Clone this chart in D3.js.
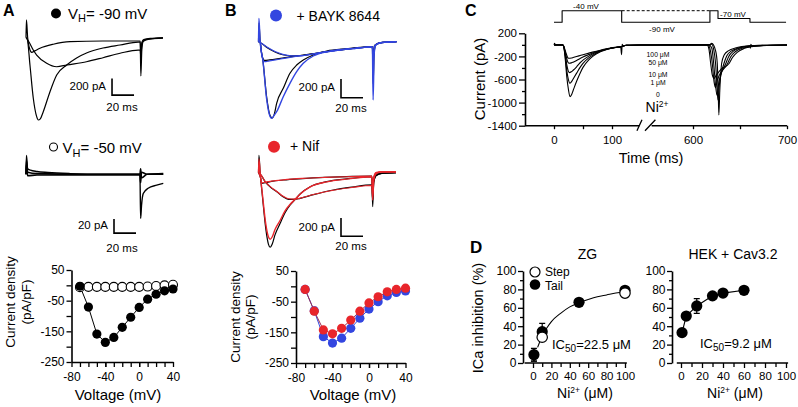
<!DOCTYPE html>
<html><head><meta charset="utf-8">
<script src="https://cdn.jsdelivr.net/npm/d3@7"></script>
<style>body{margin:0;background:#fff}svg{display:block}</style>
</head><body><script>
// ---------------- DATA ----------------
const ivVoltage = [-70,-60,-50,-40,-30,-20,-10,0,10,20,30,40];
const ivHold90 = [-3,-71,-159,-186,-170,-137,-104,-72,-45,-29,-18,-12];
const ivHold50 = [-6,-5,-5,-5,-5,-5,-5,-5,-4,-2,0,2];
const ivBayk = [-10,-80,-164,-185,-169,-137,-104,-74,-50,-31,-20,-15];
const ivBaykErr = [3,12,8,8,8,6,5,5,4,4,4,4];
const ivNif = [-10,-81,-142,-155,-137,-110,-81,-54,-34,-18,-10,-6];
const ivNifErr = [3,6,5,5,5,4,4,3,3,3,3,3];
const ivXTicks = [-80,-40,0,40];
const ivYTicks = [50,-50,-150,-250];

// Panel A traces (ms, pA)
const traceA90big = [[0,0],[1.2,-20],[3.6,-329],[6.6,-725],[9.7,-948],[11.2,-988],[13,-975],[15.7,-889],[21.8,-649],[27.9,-449],[37,-329],[46,-245],[55,-186],[70,-126],[85.5,-90],[102,-55],[103.8,-55],[104.4,-460],[105.3,-150],[106.5,-50],[110,-25],[117,-12],[124.5,-5]];
const traceA90mid = [[0,0],[3,-60],[6.6,-150],[9.7,-210],[18.8,-309],[27.9,-350],[37,-329],[55,-290],[70,-242],[85.5,-189],[102,-150],[103.8,-150],[104.4,-230],[105.3,-80],[107,-35],[112,-18],[124.5,-8]];
const traceA90fast = [[0,0],[0.4,210],[1.5,0],[3,-120],[5.2,-177],[8,-160],[12.7,-129],[24.8,-81],[40,-50],[70,-42],[102,-42],[103.8,-42],[104.4,-200],[105.3,-60],[107,-25],[113,-10],[124.5,-3]];
const traceA50a = [[0,0],[0.4,27],[1.5,8],[4,6],[10,4],[20,2.6],[40,1],[70,0],[103.6,0],[104.2,-63],[105,-45],[106.6,-27.5],[111,-20],[118.8,-15.5],[124.8,-13]];
const traceA50b = [[0,0],[0.4,20],[1.5,3],[10,1],[50,0],[103.6,0],[104.2,8],[105,-5],[110,0],[124.8,1]];
const traceA50c = [[0,0],[0.4,14],[1.5,-2],[10,-1],[50,-1],[103.6,-1],[104.2,-12],[105,3],[110,0],[124.8,0]];

// Panel B traces (ms, pA)
const traceBblackBig = [[0,0],[0.4,200],[1.5,0],[4,-200],[7.5,-600],[10.5,-790],[12.5,-816],[14.5,-770],[16.5,-659],[22.5,-499],[28.6,-338],[34.7,-249],[40.7,-196],[49.8,-142],[62,-100],[80,-75],[103.5,-55],[104.2,-450],[105.2,-100],[107,-30],[112,-10],[125.5,0]];
const traceBblueBig = [[0,0],[0.4,250],[1.5,0],[4,-200],[7.5,-623],[10.5,-800],[12,-819],[14,-790],[16.5,-749],[22.5,-588],[28.6,-445],[34.7,-320],[40.7,-231],[49.8,-153],[62,-107],[80,-78],[103.5,-55],[104.2,-623],[105.2,-120],[107,-30],[112,-8],[125.5,0]];
const traceBblueFast = [[0,0],[1.5,0],[3,-150],[5.5,-214],[10,-205],[20,-185],[30,-165],[40,-148],[55,-120],[70,-95],[85,-75],[103.5,-55],[104.2,-200],[105.5,-50],[110,-15],[125.5,0]];
const traceBblackFast = [[0,0],[1.5,0],[3,-140],[5.5,-200],[10,-195],[20,-178],[30,-160],[40,-145],[55,-118],[70,-93],[85,-73],[103.5,-54],[104.2,-180],[105.5,-45],[110,-12],[125.5,0]];
const traceBblueSlow = [[0,0],[3,-20],[8,-60],[15,-105],[22,-135],[30,-150],[40,-148],[55,-120],[70,-95],[85,-75],[103.5,-55],[104.2,-180],[105.5,-45],[110,-12],[125.5,0]];
const traceBblackSlow = [[0,0],[3,-20],[8,-65],[15,-110],[22,-140],[30,-152],[40,-146],[55,-119],[70,-94],[85,-74],[103.5,-55],[104.2,-170],[105.5,-40],[110,-12],[125.5,0]];
const traceNblackBig = [[0,0],[0.4,190],[1.5,0],[3.5,-250],[6.5,-600],[9,-780],[10.6,-815],[12.5,-780],[15,-680],[19.7,-553],[24,-440],[28.8,-353],[33.4,-291],[38,-230],[47,-153],[62,-98],[80,-68],[103,-44],[103.8,-371],[104.8,-100],[107,-30],[112,-8],[125,0]];
const traceNredBig = [[0,0],[0.4,150],[1.5,0],[3.5,-230],[6.5,-550],[9,-700],[10.6,-728],[12.5,-700],[15,-620],[19.7,-520],[24,-420],[28.8,-345],[33.4,-290],[38,-232],[47,-155],[62,-100],[80,-70],[103,-46],[103.8,-300],[104.8,-80],[107,-10],[112,10],[125,10]];
const traceNblackMid = [[0,0],[2,-20],[6,-98],[11,-160],[16.7,-208],[22,-260],[27.3,-291],[32,-292],[38,-280],[50,-240],[68,-189],[85,-158],[103,-134],[103.8,-300],[104.8,-100],[107,-30],[112,-8],[125,0]];
const traceNredMid = [[0,0],[2,-20],[6,-95],[11,-155],[16.7,-205],[22,-255],[27.3,-285],[32,-288],[38,-278],[50,-238],[68,-192],[85,-162],[103,-140],[103.8,-250],[104.8,-60],[107,0],[112,10],[125,8]];
const traceNblackFast = [[0,0],[1.5,-40],[3,-116],[6,-110],[12,-95],[22.7,-80],[40,-65],[60,-52],[80,-43],[103,-36],[103.8,-200],[104.8,-60],[107,-15],[112,-3],[125,0]];
const traceNredFast = [[0,0],[1.5,-40],[3,-110],[6,-105],[12,-92],[22.7,-78],[40,-63],[60,-52],[80,-44],[103,-38],[103.8,-180],[104.8,-40],[107,5],[112,10],[125,8]];

// Panel C: current traces for Ni2+ concentrations (ms, pA)
const niLabels = ["100 \u03bcM","50 \u03bcM","10 \u03bcM","1 \u03bcM","0"];
const cTrace0 = [[0,0],[1,25],[2.5,0],[14,0],[16,-10],[19,-204],[22,-550],[25,-781],[27.6,-897],[30,-870],[33,-790],[39,-630],[45,-490],[50,-390],[60,-260],[68,-190],[80,-120],[91,-80],[105,-48],[115,-35],[116.5,-170],[117.5,10],[119,-15],[125,-8],[150,-3],[560,-2],[617,0],[620,25],[624,-100],[625.8,-319],[626.8,-800],[627.5,-1213],[628.5,-800],[630.5,-319],[633,-180],[638,-100],[645,-55],[652,-30],[660.5,-15],[661,-60],[661.5,10],[662.5,-12],[675,-6],[700,-2]];
const cTrace1 = [[0,0],[14,0],[16,-10],[19,-170],[22,-440],[25,-610],[27,-665],[30,-640],[33,-590],[39,-490],[45,-390],[50,-320],[60,-225],[68,-170],[80,-112],[91,-77],[105,-47],[115,-35],[125,-8],[150,-3],[560,-2],[617,0],[620,10],[622,-80],[624,-319],[625.5,-700],[626.5,-955],[628,-700],[633,-319],[636,-190],[641,-105],[648,-55],[655,-30],[665,-14],[700,-2]];
const cTrace10 = [[0,0],[14,0],[16,-8],[19,-140],[22,-340],[24.5,-450],[26.5,-481],[30,-465],[33,-440],[39,-380],[45,-310],[50,-265],[60,-195],[68,-150],[80,-104],[91,-74],[105,-46],[115,-34],[125,-8],[150,-3],[560,-2],[617,0],[620,-60],[622,-319],[624,-700],[625.5,-870],[627.5,-650],[635,-319],[638,-200],[643,-110],[650,-55],[658,-30],[668,-14],[700,-2]];
const cTrace50 = [[0,0],[14,0],[16,-8],[19,-110],[22,-240],[24,-300],[26,-319],[30,-312],[33,-300],[39,-270],[45,-235],[50,-210],[60,-168],[68,-136],[80,-98],[91,-71],[105,-45],[115,-33],[125,-8],[150,-3],[560,-2],[616,0],[618.5,-100],[620.5,-319],[622.5,-650],[624,-740],[626,-600],[637,-319],[640,-210],[645,-120],[652,-60],[660,-32],[670,-14],[700,-2]];
const cTrace100 = [[0,0],[14,0],[16,-6],[19,-90],[22,-180],[24,-225],[25,-232],[30,-228],[33,-220],[39,-203],[45,-185],[50,-170],[60,-143],[68,-122],[80,-92],[91,-68],[105,-44],[115,-33],[125,-8],[150,-3],[560,-2],[615,0],[617,-80],[618.8,-319],[620.5,-520],[622.5,-580],[625,-520],[630,-420],[638.6,-319],[642,-220],[647,-130],[654,-65],[662,-34],[672,-14],[700,-2]];
const cProtocol = [[0,-90],[14,-90],[14,-40],[116.7,-40],[116.7,-90],[618,-90],[618,-40],[626.6,-40],[626.6,-70],[660.6,-70],[660.6,-90],[699,-90]];
const cProtocolDash = [[116.7,-40],[618,-40]];
const cYTicks = [200,-200,-600,-1000,-1400];
const cYMinor = [0,-400,-800,-1200];
const cXTicks = [0,100,600,700];
const cXMinor = [50,650];

// Panel D
const zgConc = [1,10,50,100];
const zgStep = [5,28,65,76];
const zgStepErr = [3,3,2,2];
const zgTail = [9,34,66,79];
const zgTailErr = [7,9,3,2];
const zgFitConc = [5,10,15,20,30,40,50,60,70,80,90,100];
const zgFitVal = [17,29,38,45,54,61,65.5,69,72,74,76,77.5];
const hekConc = [1,5,15,30,40,60];
const hekVal = [33,51,62,73,76,79];
const hekErr = [3,3,8,3,2,3];
const dTicks = [0,20,40,60,80,100];
const dMinor = [10,30,50,70,90];

// ---------------- DRAW ----------------
const FONT = '"Liberation Sans", Arial, Helvetica, sans-serif';
const BLUE = "#3346e0", RED = "#e8252b";
const svg = d3.select("body").append("svg").attr("width",798).attr("height",407)
  .style("font-family",FONT).style("background","#fff");

function trace(data, xs, ys, color, w, curve){
  svg.append("path").datum(data).attr("fill","none").attr("stroke",color)
    .attr("stroke-width",w||1.2).attr("stroke-linejoin","round")
    .attr("d", d3.line().x(d=>xs(d[0])).y(d=>ys(d[1])).curve(curve||d3.curveMonotoneX));
}
function text(x,y,s,fs,anchor,weight){
  return svg.append("text").attr("x",x).attr("y",y).attr("font-size",fs)
    .attr("text-anchor",anchor||"start").attr("font-weight",weight||"normal").attr("fill","#000").text(s);
}
function vtext(x,y,s,fs){
  return svg.append("text").attr("transform",`translate(${x},${y}) rotate(-90)`)
    .attr("font-size",fs).attr("text-anchor","middle").attr("fill","#000").text(s);
}
function styleAxis(g,fs){
  g.selectAll("text").attr("font-size",fs).attr("font-family",FONT).attr("fill","#000");
  g.selectAll("line").attr("stroke","#000").attr("stroke-width",1.3);
  g.selectAll(".domain").attr("stroke","#000").attr("stroke-width",1.6);
}
function yAxis(scale,x,majors,minors,fs,majLen,minLen,pad){
  const g1 = svg.append("g").attr("transform",`translate(${x},0)`)
    .call(d3.axisLeft(scale).tickValues(minors).tickSize(minLen).tickFormat("").tickSizeOuter(0));
  const g2 = svg.append("g").attr("transform",`translate(${x},0)`)
    .call(d3.axisLeft(scale).tickValues(majors).tickSize(majLen).tickPadding(pad).tickFormat(d=>String(d)).tickSizeOuter(0));
  g2.select(".domain").remove();
  styleAxis(g1,fs); styleAxis(g2,fs);
}
function xAxis(scale,y,majors,minors,fs,majLen,minLen,pad){
  const g1 = svg.append("g").attr("transform",`translate(0,${y})`)
    .call(d3.axisBottom(scale).tickValues(minors).tickSize(minLen).tickFormat("").tickSizeOuter(0));
  const g2 = svg.append("g").attr("transform",`translate(0,${y})`)
    .call(d3.axisBottom(scale).tickValues(majors).tickSize(majLen).tickPadding(pad).tickFormat(d=>String(d)).tickSizeOuter(0));
  g2.select(".domain").remove();
  styleAxis(g1,fs); styleAxis(g2,fs);
  return [g1,g2];
}
function scaleBar(xs, ys, t0, i0, dt, di){
  svg.append("path").attr("fill","none").attr("stroke","#000").attr("stroke-width",1.6)
    .attr("d",`M${xs(t0)},${ys(i0)}V${ys(i0-di)}H${xs(t0+dt)}`);
}

// ===== Panel A =====
text(3,16,"A",16,"start","bold");
svg.append("circle").attr("cx",56).attr("cy",13.5).attr("r",5).attr("fill","#000");
{const t=text(68,18.5,"V",15); t.append("tspan").attr("font-size",11).attr("dy",3.5).text("H"); t.append("tspan").attr("dy",-3.5).text("= -90 mV");}
const xTrA = d3.scaleLinear().domain([0,20]).range([26,48]);
const yTrA1 = d3.scaleLinear().domain([0,-200]).range([37.5,54.2]);
trace(traceA90mid,xTrA,yTrA1,"#000");
trace(traceA90fast,xTrA,yTrA1,"#000");
trace(traceA90big,xTrA,yTrA1,"#000");
scaleBar(xTrA,yTrA1,78.2,-490,20,200);
text(106,90,"200 pA",11.5,"end");
text(122,111,"20 ms",11.5,"middle");

svg.append("circle").attr("cx",53.5).attr("cy",147).attr("r",4).attr("fill","#fff").attr("stroke","#000").attr("stroke-width",1.1);
{const t=text(62.5,153,"V",15); t.append("tspan").attr("font-size",11).attr("dy",3.5).text("H"); t.append("tspan").attr("dy",-3.5).text("= -50 mV");}
const yTrA2 = d3.scaleLinear().domain([0,-20]).range([174.3,188.3]);
trace(traceA50b,xTrA,yTrA2,"#000",1.6);
trace(traceA50c,xTrA,yTrA2,"#000",1.6);
trace(traceA50a,xTrA,yTrA2,"#000",1.4);
scaleBar(xTrA,yTrA2,80,-64,20,20);
text(108,229,"20 pA",11.5,"end");
text(122,251.5,"20 ms",11.5,"middle");

const xIVA = d3.scaleLinear().domain([-80,40]).range([71.5,173]);
const yIVA = d3.scaleLinear().domain([-250,50]).range([362,270]);
yAxis(yIVA,71.5,ivYTicks,[0,-100,-200],12,5,5,2);
xAxis(xIVA,362,ivXTicks,d3.range(-70,40,10),12,5,5,5.5);
const lineIV = (xs,ys,vals)=>d3.line().x((d,i)=>xs(ivVoltage[i])).y(d=>ys(d))(vals);
svg.append("path").attr("d",lineIV(xIVA,yIVA,ivHold50)).attr("fill","none").attr("stroke","#000").attr("stroke-width",1);
svg.append("path").attr("d",lineIV(xIVA,yIVA,ivHold90)).attr("fill","none").attr("stroke","#000").attr("stroke-width",1);
svg.selectAll(null).data(ivHold50).enter().append("circle")
  .attr("cx",(d,i)=>xIVA(ivVoltage[i])).attr("cy",d=>yIVA(d)).attr("r",4.5)
  .attr("fill","#fff").attr("stroke","#000").attr("stroke-width",1.1);
svg.selectAll(null).data(ivHold90).enter().append("circle")
  .attr("cx",(d,i)=>xIVA(ivVoltage[i])).attr("cy",d=>yIVA(d)).attr("r",4.6).attr("fill","#000");
vtext(15,302,"Current density",13.5);
vtext(31,302,"(pA/pF)",13.5);
text(118,400,"Voltage (mV)",15,"middle");

// ===== Panel B =====
text(225,16,"B",16,"start","bold");
svg.append("circle").attr("cx",276).attr("cy",15.5).attr("r",6).attr("fill",BLUE);
text(296.5,20.5,"+ BAYK 8644",14);
const xTrB = d3.scaleLinear().domain([0,20]).range([258.5,280.5]);
const yTrB1 = d3.scaleLinear().domain([0,-200]).range([41.7,60.4]);
trace(traceBblackSlow,xTrB,yTrB1,"#000");
trace(traceBblackFast,xTrB,yTrB1,"#000");
trace(traceBblackBig,xTrB,yTrB1,"#000");
trace(traceBblueSlow,xTrB,yTrB1,BLUE);
trace(traceBblueFast,xTrB,yTrB1,BLUE);
trace(traceBblueBig,xTrB,yTrB1,BLUE,1.4);
scaleBar(xTrB,yTrB1,75,-399,20,200);
text(335,90.7,"200 pA",11.5,"end");
text(351,111.5,"20 ms",11.5,"middle");

svg.append("circle").attr("cx",274).attr("cy",146.7).attr("r",6).attr("fill",RED);
text(290,151,"+ Nif",14);
const yTrB2 = d3.scaleLinear().domain([0,-200]).range([172.7,191]);
trace(traceNblackFast,xTrB,yTrB2,"#000");
trace(traceNblackMid,xTrB,yTrB2,"#000");
trace(traceNblackBig,xTrB,yTrB2,"#000");
trace(traceNredFast,xTrB,yTrB2,RED);
trace(traceNredMid,xTrB,yTrB2,RED);
trace(traceNredBig,xTrB,yTrB2,RED,1.4);
scaleBar(xTrB,yTrB2,75,-495,20,200);
text(335,230.7,"200 pA",11.5,"end");
text(351,250,"20 ms",11.5,"middle");

const xIVB = d3.scaleLinear().domain([-80,40]).range([296,405.5]);
const yIVB = d3.scaleLinear().domain([-250,50]).range([363,271]);
yAxis(yIVB,296,ivYTicks,[0,-100,-200],12,5,5,2);
xAxis(xIVB,363,ivXTicks,d3.range(-70,40,10),12,5,5,5.5);
function errBars(xs,ys,vals,errs,color){
  vals.forEach((v,i)=>{
    const x=xs(ivVoltage[i]);
    svg.append("path").attr("fill","none").attr("stroke",color).attr("stroke-width",1)
      .attr("d",`M${x},${ys(v-errs[i])}V${ys(v+errs[i])}M${x-2.5},${ys(v-errs[i])}H${x+2.5}M${x-2.5},${ys(v+errs[i])}H${x+2.5}`);
  });
}
errBars(xIVB,yIVB,ivBayk,ivBaykErr,BLUE);
svg.append("path").attr("d",lineIV(xIVB,yIVB,ivBayk)).attr("fill","none").attr("stroke",BLUE).attr("stroke-width",1);
svg.selectAll(null).data(ivBayk).enter().append("circle")
  .attr("cx",(d,i)=>xIVB(ivVoltage[i])).attr("cy",d=>yIVB(d)).attr("r",4.6).attr("fill",BLUE);
errBars(xIVB,yIVB,ivNif,ivNifErr,RED);
svg.append("path").attr("d",lineIV(xIVB,yIVB,ivNif)).attr("fill","none").attr("stroke","#9a3050").attr("stroke-width",1);
svg.selectAll(null).data(ivNif).enter().append("circle")
  .attr("cx",(d,i)=>xIVB(ivVoltage[i])).attr("cy",d=>yIVB(d)).attr("r",4.6).attr("fill",RED);
vtext(240,317,"Current density",13.5);
vtext(255,317,"(pA/pF)",13.5);
text(353,400,"Voltage (mV)",15,"middle");

// ===== Panel C =====
text(465,16,"C",16,"start","bold");
const xC = d3.scaleLinear().domain([-50,150,550,700]).range([525,641,646,787]);
const yC = d3.scaleLinear().domain([-1400,200]).range([125.7,33.3]);
const vC = d3.scaleLinear().domain([-90,-70,-40]).range([22.3,18.5,10.7]);
trace(cProtocol,xC,vC,"#000",1.1,d3.curveLinear);
svg.append("path").datum(cProtocolDash).attr("fill","none").attr("stroke","#000").attr("stroke-width",1)
  .attr("stroke-dasharray","3,2").attr("d",d3.line().x(d=>xC(d[0])).y(d=>vC(d[1])));
text(586,9,"-40 mV",8,"middle");
text(662,31.5,"-90 mV",8,"middle");
text(733,16.5,"-70 mV",8,"middle");
[cTrace100,cTrace50,cTrace10,cTrace1,cTrace0].forEach(tr=>trace(tr,xC,yC,"#000",1.1));
// y axis
yAxis(yC,525,cYTicks,cYMinor,11.5,6,3,2);
// x axis in two segments
{
  const [g1,g2] = xAxis(xC,125.7,cXTicks,cXMinor,11.5,3.5,3.5,7);
  g1.select(".domain").remove();
  const y=125.7;
  svg.append("path").attr("stroke","#000").attr("stroke-width",1.6).attr("fill","none")
    .attr("d",`M${xC(-50)},${y}H${xC(147)}M${xC(556)},${y}H${xC(700)}`);
  svg.append("path").attr("stroke","#000").attr("stroke-width",1.3).attr("fill","none")
    .attr("d",`M${xC(143)},${y+5}L${xC(150)+1},${y-6}M${xC(550)-1},${y+5}L${xC(560)},${y-6}`);
}
// concentration labels
const niLabelY = [57,65,76.5,84.5,97];
niLabels.forEach((s,i)=>text(658,niLabelY[i],s,6.8,"middle"));
{const t=text(657,112,"Ni",14,"middle"); t.append("tspan").attr("font-size",8.5).attr("dy",-5.5).text("2+");}
vtext(485,79,"Current (pA)",15);
text(651,163,"Time (ms)",14.5,"middle");

// ===== Panel D =====
text(470,252.7,"D",17,"start","bold");
const xZG = d3.scaleLinear().domain([0,100]).range([533,625]);
const yD = d3.scaleLinear().domain([0,100]).range([363,271]);
const xHEK = d3.scaleLinear().domain([0,100]).range([681,786]);
function dAxes(xs, yx, x0, x1){
  yAxis(yD,yx,dTicks,dMinor,12,5,3,1.5);
  const [g1,g2] = xAxis(xs,363,dTicks,dMinor,11.5,5,4,3.5);
  g1.select(".domain").remove();
  svg.append("path").attr("stroke","#000").attr("stroke-width",1.6).attr("d",`M${xs(x0)},363H${xs(x1)}`);
}
dAxes(xZG,523,-9,102);
dAxes(xHEK,672,-4,102);
function dErr(xs,cx,vals,errs){
  vals.forEach((v,i)=>{
    const x=xs(cx[i]);
    svg.append("path").attr("fill","none").attr("stroke","#000").attr("stroke-width",1.2)
      .attr("d",`M${x},${yD(v-errs[i])}V${yD(v+errs[i])}M${x-3},${yD(v-errs[i])}H${x+3}M${x-3},${yD(v+errs[i])}H${x+3}`);
  });
}
// ZG
svg.append("path").datum(zgFitConc).attr("fill","none").attr("stroke","#000").attr("stroke-width",1.1)
  .attr("d",d3.line().x(d=>xZG(d)).y((d,i)=>yD(zgFitVal[i])).curve(d3.curveMonotoneX));
dErr(xZG,zgConc,zgStep,zgStepErr);
dErr(xZG,zgConc,zgTail,zgTailErr);
svg.selectAll(null).data(zgTail).enter().append("circle")
  .attr("cx",(d,i)=>xZG(zgConc[i])).attr("cy",d=>yD(d)).attr("r",5.6).attr("fill","#000");
svg.selectAll(null).data(zgStep).enter().append("circle")
  .attr("cx",(d,i)=>xZG(zgConc[i])).attr("cy",d=>yD(d)).attr("r",5.2)
  .attr("fill","#fff").attr("stroke","#000").attr("stroke-width",1.2)
  .attr("opacity",(d,i)=>i===3||i===1?1:0);
text(587.5,258.5,"ZG",14,"middle");
svg.append("circle").attr("cx",535).attr("cy",272).attr("r",5).attr("fill","#fff").attr("stroke","#000").attr("stroke-width",1.2);
svg.append("circle").attr("cx",535).attr("cy",284.5).attr("r",5.3).attr("fill","#000");
text(545,276,"Step",12);
text(545,289.5,"Tail",12);
{const t=text(552,349,"IC",13); t.append("tspan").attr("font-size",10).attr("dy",3).text("50"); t.append("tspan").attr("dy",-3).text("=22.5 \u03bcM");}
{const t=text(585,398,"Ni",14,"middle"); t.append("tspan").attr("font-size",8.5).attr("dy",-5.5).text("2+"); t.append("tspan").attr("dy",5.5).text(" (\u03bcM)");}
vtext(483,318,"ICa inhibition (%)",14.5);
// HEK
svg.append("path").datum(hekVal).attr("fill","none").attr("stroke","#000").attr("stroke-width",1.1)
  .attr("d",d3.line().x((d,i)=>xHEK(hekConc[i])).y(d=>yD(d)));
dErr(xHEK,hekConc,hekVal,hekErr);
svg.selectAll(null).data(hekVal).enter().append("circle")
  .attr("cx",(d,i)=>xHEK(hekConc[i])).attr("cy",d=>yD(d)).attr("r",5.6).attr("fill","#000");
text(733,258.5,"HEK + Cav3.2",14,"middle");
{const t=text(700,348,"IC",13); t.append("tspan").attr("font-size",10).attr("dy",3).text("50"); t.append("tspan").attr("dy",-3).text("=9.2 \u03bcM");}
{const t=text(735,398,"Ni",14,"middle"); t.append("tspan").attr("font-size",8.5).attr("dy",-5.5).text("2+"); t.append("tspan").attr("dy",5.5).text(" (\u03bcM)");}
</script></body></html>
